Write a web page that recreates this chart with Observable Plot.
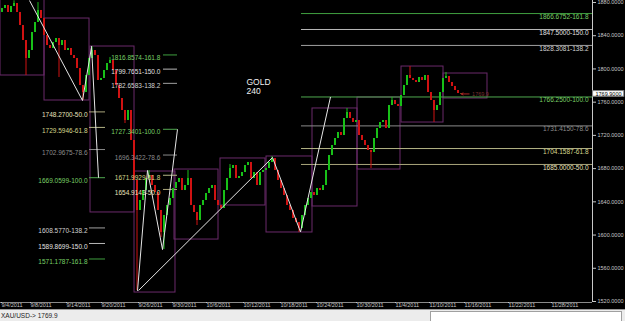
<!DOCTYPE html>
<html><head><meta charset="utf-8">
<script src="https://cdn.jsdelivr.net/npm/d3@7"></script>
<script src="https://cdn.jsdelivr.net/npm/@observablehq/plot@0.6"></script>
<style>
html,body{margin:0;padding:0;background:#000;width:625px;height:321px;overflow:hidden}
#chart svg{display:block}
#status{position:relative;height:12px;background:#ececec;font:6.5px "Liberation Sans",Arial,sans-serif;color:#222;box-sizing:border-box;border-top:1px solid #9a9a9a}
#status .sym{position:absolute;left:1px;top:2px}
#status .box{position:absolute;left:430px;top:1px;width:192px;height:11px;background:#fff;border:1px solid #a0a0a0;border-bottom:none;box-sizing:border-box}
</style></head>
<body>
<div id="chart"></div>
<div id="status"><span class="sym" id="sym"></span><div class="box"></div></div>
<script>
// ---- candle data (240-min bars, grouped) : closes, open of bar 0, notable wicks
const firstOpen = 1868.0;
const closes = [
1872.8,1876.4,1868.0,1875.2,1878.8,1868.0,1852.3,1834.2,1812.6,1822.2,
1843.9,1855.9,1870.4,1860.7,1840.3,1828.2,1824.6,1831.8,1836.6,1828.2,
1834.2,1822.2,1824.6,1816.2,1812.6,1800.5,1780.1,1771.6,1792.1,1812.6,
1822.2,1816.2,1786.1,1788.5,1798.1,1806.5,1810.2,1798.1,1780.1,1764.4,
1750.0,1737.9,1750.0,1713.8,1665.7,1629.6,1641.6,1653.6,1668.1,1671.7,
1659.7,1651.2,1629.6,1603.1,1623.5,1635.6,1644.0,1656.0,1663.3,1668.1,
1653.6,1659.7,1668.1,1635.6,1627.2,1617.5,1635.6,1641.6,1650.0,1656.0,
1659.7,1641.6,1635.6,1632.0,1653.6,1668.1,1680.1,1683.7,1668.1,1670.5,
1675.3,1683.7,1687.4,1668.1,1675.3,1659.7,1675.3,1677.7,1680.1,1687.4,
1692.2,1677.7,1665.7,1656.0,1647.6,1635.6,1629.6,1619.9,1615.1,1607.9,
1623.5,1635.6,1644.0,1651.2,1647.6,1656.0,1653.6,1659.7,1677.7,1695.8,
1707.8,1716.2,1723.5,1719.9,1740.3,1747.6,1740.3,1735.5,1737.9,1719.9,
1713.8,1707.8,1701.8,1699.4,1716.2,1728.3,1735.5,1737.9,1728.3,1756.0,
1762.0,1757.2,1754.8,1768.0,1780.1,1792.1,1788.5,1786.1,1783.7,1789.7,
1786.1,1792.1,1771.6,1762.0,1750.0,1756.0,1771.6,1788.5,1790.9,1783.7,
1778.9,1774.0,1770.4,1769.9
];
const wickHighBars = [4, 12, 30, 36, 49, 62, 76, 90, 115, 130, 136, 148];
const wickHighPrices = [1882.0, 1879.9, 1827.0, 1813.8, 1677.7, 1677.7, 1684.9, 1694.6, 1752.4, 1765.6, 1802.9, 1795.7];
const wickLowBars = [8, 19, 27, 41, 45, 53, 54, 65, 99, 123, 144];
const wickLowPrices = [1792.1, 1789.7, 1762.0, 1734.3, 1533.2, 1597.1, 1582.6, 1611.5, 1603.1, 1680.1, 1735.5];

// ---- axes
const yTicks = [1520, 1560, 1600, 1640, 1680, 1720, 1760, 1800, 1840, 1880];
const dateTickBars = [0, 9.67, 21.67, 33.33, 45.67, 57, 68.33, 80.67, 93, 105, 118.33, 131.33, 142.67, 154.33, 169, 183.33];
const dateLabels = ["9/4/2011","9/8/2011","9/14/2011","9/20/2011","9/26/2011","9/30/2011","10/6/2011","10/12/2011","10/18/2011","10/24/2011","10/30/2011","11/4/2011","11/10/2011","11/16/2011","11/22/2011","11/28/2011"];

// ---- Fibonacci objects
const fibLevels = ["161.8","150.0","138.2","100.0","78.6","61.8","50.0"];
const fibRightPrices = [1866.6752, 1847.5000, 1828.3081, 1766.2500, 1731.4150, 1704.1587, 1685.0000];
const fibMidPrices   = [1816.8574, 1799.7651, 1782.6583, 1727.3401, 1696.3422, 1671.9929, 1654.9143];
const fibLeftPrices  = [1571.1787, 1589.8699, 1608.5770, 1669.0599, 1702.9675, 1729.5946, 1748.2700];
const fibRightSpan = [100.33, 197.33], fibRightLabelEnd = 196;
const fibMidSpan = [54.33, 59], fibMidLabelEnd = 53.3;
const fibLeftSpan = [29.67, 35], fibLeftLabelEnd = 29;

// ---- trend lines (bar, price)
const trendX1 = [9.67, 27.33, 30.33, 45.67, 49, 54, 46, 90.67, 100];
const trendY1 = [1882.4, 1762.0, 1827.48, 1532.8, 1677.7, 1582.49, 1533.2, 1693.4, 1603.75];
const trendX2 = [27.33, 30.33, 32.67, 49, 54, 59, 90.67, 100, 110];
const trendY2 = [1762.0, 1825.8, 1669.06, 1677.7, 1582.49, 1727.34, 1693.4, 1603.75, 1766.25];

// ---- rectangles (bar range, price range)
const boxX1 = [0, 14.67, 30, 44.67, 58, 73.33, 88.67, 104, 119, 133.67, 147.67];
const boxX2 = [14.67, 29.67, 44.67, 58.33, 72.67, 88.33, 104, 119, 133.33, 147.67, 162.33];
const boxLow = [1792.1, 1762.0, 1627.2, 1530.8, 1594.6, 1635.6, 1603.1, 1634.4, 1678.9, 1735.5, 1764.4];
const boxHigh = [1884, 1860.7, 1827.0, 1676.5, 1678.9, 1692.2, 1694.6, 1752.4, 1765.6, 1802.9, 1794.5];

const symbol = "XAU/USD";
const period = "240";
const lastPrice = closes[closes.length - 1];

// ---------- build tables
const xMax = 592 / 3;
const hiMap = new Map(wickHighBars.map((b, i) => [b, wickHighPrices[i]]));
const loMap = new Map(wickLowBars.map((b, i) => [b, wickLowPrices[i]]));
const candles = closes.map((c, i) => {
  const o = i === 0 ? firstOpen : closes[i - 1];
  let h = Math.max(o, c), l = Math.min(o, c);
  if (hiMap.has(i)) h = Math.max(h, hiMap.get(i));
  if (loMap.has(i)) l = Math.min(l, loMap.get(i));
  const kind = Math.abs(c - o) < 2 ? "doji" : c > o ? "up" : "down";
  return {x: i + 0.5, o, c, h, l, kind};
});
const candleColor = {up: "#18c018", down: "#d01212", doji: "#a08a2c"};

const lineColor = {"161.8":"#3f9f3f","150.0":"#b8b8b8","138.2":"#a0a0a0","100.0":"#4fa84f","78.6":"#8a8a8a","61.8":"#b4b486","50.0":"#aaa67c"};
const textColor = {"161.8":"#79d067","150.0":"#e2e2e2","138.2":"#d2d2d2","100.0":"#79d067","78.6":"#8c8c8c","61.8":"#d6d68c","50.0":"#e8e2bc"};
function fibRows(prices, span, labelEnd) {
  return prices.map((p, i) => ({x1: span[0], x2: span[1], y: p, lx: labelEnd,
    level: fibLevels[i], label: p.toFixed(4) + "-" + fibLevels[i]}));
}
const fibs = [
  ...fibRows(fibRightPrices, fibRightSpan, fibRightLabelEnd),
  ...fibRows(fibMidPrices, fibMidSpan, fibMidLabelEnd),
  ...fibRows(fibLeftPrices, fibLeftSpan, fibLeftLabelEnd)
];
const trends = trendX1.map((x, i) => ({x1: x, y1: trendY1[i], x2: trendX2[i], y2: trendY2[i]}));
const boxes = boxX1.map((x, i) => ({x1: x, x2: boxX2[i], y1: boxLow[i], y2: boxHigh[i]}));
const dateMap = new Map(dateTickBars.map((b, i) => [b, dateLabels[i]]));

const font = "Liberation Sans, Arial, sans-serif";
const chart = Plot.plot({
  width: 625, height: 309,
  marginLeft: 0, marginRight: 33, marginTop: 0, marginBottom: 7,
  x: {domain: [0, xMax]},
  y: {domain: [1518.8, 1882.4]},
  style: {background: "#000", color: "#c8c8c8", fontFamily: font, fontSize: "5.5px", overflow: "hidden"},
  marks: [
    // boxes
    Plot.rect(boxes, {x1: "x1", x2: "x2", y1: "y1", y2: "y2", fill: "none", stroke: "#6a2a6a", strokeWidth: 1}),
    // fibonacci lines
    Plot.ruleY(fibs, {x1: "x1", x2: "x2", y: "y", stroke: d => lineColor[d.level], strokeWidth: 1}),
    // candles
    ...["up", "down", "doji"].map(k => Plot.ruleX(candles.filter(d => d.kind === k), {x: "x", y1: "l", y2: "h", stroke: candleColor[k], strokeWidth: 1})),
    ...["up", "down", "doji"].map(k => Plot.ruleX(candles.filter(d => d.kind === k), {x: "x", y1: "o", y2: "c", stroke: candleColor[k], strokeWidth: 2})),
    // trend lines
    Plot.link(trends, {x1: "x1", y1: "y1", x2: "x2", y2: "y2", stroke: "#e6e6e6", strokeWidth: 1}),
    // fib labels
    Plot.text(fibs, {x: "lx", y: "y", text: "label", fill: d => textColor[d.level], textAnchor: "end", dy: 3, fontSize: 6.5, fontFamily: font}),
    // symbol / period annotation
    Plot.text([symbol.slice(0, 3) === "XAU" ? "GOLD\n" + period : symbol + "\n" + period], {x: 82, y: 1787.5, text: d => d, fill: "#f0f0f0", textAnchor: "start", lineAnchor: "top", lineHeight: 1.0, fontSize: 8.5, fontFamily: font}),
    // last price arrow label
    Plot.arrow([lastPrice], {x1: 156.2, x2: 153.6, y1: d => d, y2: d => d, stroke: "#b02525", strokeWidth: 1, headLength: 3}),
    Plot.text([lastPrice], {x: 157.2, y: d => d, text: d => d.toFixed(1), fill: "#7a3030", textAnchor: "start", fontSize: 5.5}),
    // axis lines
    Plot.ruleY([1518.8], {x1: 0, x2: xMax, stroke: "#8a8a8a"}),
    Plot.ruleX([xMax], {stroke: "#c8c8c8"}),
    Plot.axisY({anchor: "right", ticks: yTicks, tickFormat: d => d.toFixed(4), tickSize: 3, tickPadding: 2, fontSize: 5.5, label: null}),
    Plot.axisX({anchor: "bottom", ticks: dateTickBars, tickFormat: d => dateMap.get(d), tickSize: 1, tickPadding: 0, textAnchor: "start", dx: 1, fontSize: 5.5, label: null}),
    // price tag on axis
    Plot.rect([lastPrice], {x1: xMax + 0.2, x2: xMax + 10.6, y1: d => d - 3.4, y2: d => d + 3.4, fill: "#ffffff", stroke: "#808080"}),
    Plot.text([lastPrice], {x: xMax, y: d => d, text: d => d.toFixed(4), dx: 3, textAnchor: "start", fill: "#000", fontSize: 5.5})
  ]
});
document.getElementById("chart").appendChild(chart);
document.getElementById("sym").textContent = symbol + "-> " + lastPrice.toFixed(1);
</script>
</body></html>
